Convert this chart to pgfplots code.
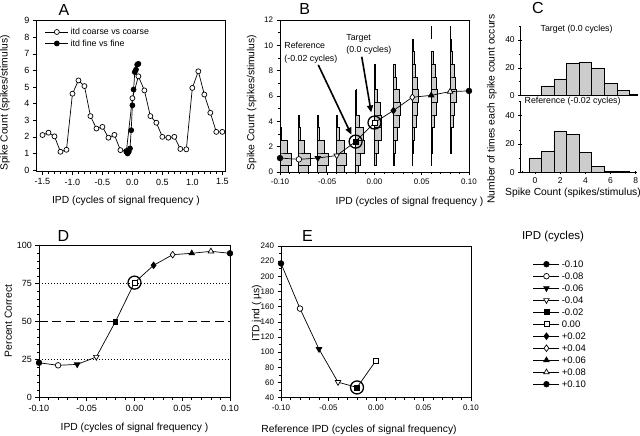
\documentclass[border=0pt]{standalone}
\usepackage{fontspec}
\setmainfont{Liberation Sans}
\usepackage{pgfplots}
\pgfplotsset{compat=1.18}
\usetikzlibrary{arrows.meta}
\pgfplotsset{
  base/.style={scale only axis, anchor=south west, tick align=outside, xtick pos=bottom, ytick pos=left,
    axis line style={line width=0.7pt}, tick style={black, line width=0.6pt},
    major tick length=3.5pt, minor tick length=2.2pt,
    tick label style={font=\fontsize{8.5}{10}\selectfont},
    label style={font=\fontsize{10.3}{12}\selectfont},
    /pgf/number format/assume math mode=true,
    every axis plot/.append style={line width=0.7pt},
  },
  mk1/.style={mark=*, mark size=2.8pt, mark options={draw=black, fill=black, solid}},
  mk2/.style={mark=*, mark size=2.8pt, mark options={draw=black, fill=white, solid}},
  mk3/.style={mark=triangle*, mark size=3.2pt, mark options={draw=black, fill=black, rotate=180, solid}},
  mk4/.style={mark=triangle*, mark size=3.2pt, mark options={draw=black, fill=white, rotate=180, solid}},
  mk5/.style={mark=square*, mark size=2.4pt, mark options={draw=black, fill=black, solid}},
  mk6/.style={mark=square*, mark size=2.4pt, mark options={draw=black, fill=white, solid}},
  mk7/.style={mark=diamond*, mark size=3.3pt, mark options={draw=black, fill=black, solid}},
  mk8/.style={mark=diamond*, mark size=3.3pt, mark options={draw=black, fill=white, solid}},
  mk9/.style={mark=triangle*, mark size=3.2pt, mark options={draw=black, fill=black, solid}},
  mk10/.style={mark=triangle*, mark size=3.2pt, mark options={draw=black, fill=white, solid}},
  hist/.style={draw=black, fill=gray!40, line width=0.5pt},
  rng/.style={black, line width=0.9pt},
}
\begin{document}
\begin{tikzpicture}
\path[use as bounding box] (0,0) rectangle (640pt,436pt);
% panel letters
\node[font=\fontsize{16}{18}\selectfont] at (64pt,425.5pt) {A};
\node[font=\fontsize{16}{18}\selectfont] at (304.7pt,427pt) {B};
\node[font=\fontsize{16}{18}\selectfont] at (538pt,428.5pt) {C};
\node[font=\fontsize{16}{18}\selectfont] at (63.3pt,200pt) {D};
\node[font=\fontsize{16}{18}\selectfont] at (307.5pt,200pt) {E};

% ---------------- A ----------------
\begin{axis}[base, at={(36.5pt,264.3pt)}, width=188.8pt, height=151pt,
  xmin=-1.6, xmax=1.55, ymin=-0.1, ymax=9,
  xtick={-1.5,-1,-0.5,0,0.5,1,1.5}, xticklabels={-1.5,-1.0,-0.5,0.0,0.5,1.0,1.5},
  minor x tick num=4, ytick={0,1,2,3,4,5,6,7,8,9},
  tick label style={font=\fontsize{9}{10}\selectfont},
  xlabel={IPD (cycles of signal frequency )}, ylabel={Spike Count (spikes/stimulus)},
  xlabel style={at={(axis description cs:0.5,0)}, anchor=center, yshift=-29pt, xshift=-5pt},
  ylabel style={at={(axis description cs:-0.167,0.455)}, anchor=center},
  legend style={draw=none, fill=none, at={(0.028,0.978)}, anchor=north west,
    font=\fontsize{8.8}{10}\selectfont, nodes={text height=6.5pt, text depth=1pt}},
  legend cell align=left,
  legend image code/.code={\draw[mark repeat=2,mark phase=2] plot coordinates {(0pt,0pt) (11.5pt,0pt) (23pt,0pt)};},
]
\addplot[black, mark=*, mark size=2.5pt, mark options={fill=white}] coordinates {
(-1.5,2.11) (-1.4,2.25) (-1.3,2.03) (-1.2,1.10) (-1.1,1.22) (-1.0,4.60) (-0.9,5.40)
(-0.8,5.06) (-0.7,3.25) (-0.6,2.50) (-0.5,2.60) (-0.4,1.95) (-0.3,2.12) (-0.2,1.20)
(-0.1,1.15) (0.0,4.33) (0.1,5.65) (0.2,4.80) (0.3,3.25) (0.4,2.85) (0.5,2.00)
(0.6,1.95) (0.7,2.00) (0.8,1.27) (0.9,1.25) (1.0,4.95) (1.1,5.95) (1.2,4.55)
(1.3,3.45) (1.4,2.30) (1.5,2.30)};
\addlegendentry{itd coarse vs coarse}
\addplot[black, mark=*, mark size=2.5pt, mark options={fill=black}] coordinates {
(-0.10,1.1) (-0.08,1.0) (-0.06,1.1) (-0.04,1.3) (-0.02,2.4) (0.00,3.9)
(0.02,4.85) (0.04,5.9) (0.06,6.05) (0.08,6.35) (0.10,6.4)};
\addlegendentry{itd fine vs fine}
\end{axis}

% ---------------- B ----------------
\begin{axis}[base, at={(280pt,264pt)}, width=189pt, height=152pt,
  xmin=-0.1, xmax=0.1, ymin=0, ymax=12,
  xtick={-0.1,-0.05,0,0.05,0.1}, xticklabels={-0.10,-0.05,0.00,0.05,0.10},
  minor x tick num=4, ytick={0,2,4,6,8,10,12}, minor y tick num=1,
  tick label style={font=\fontsize{8}{10}\selectfont},
  xlabel={IPD (cycles of signal frequency )}, ylabel={Spike Count (spikes/stimulus)},
  xlabel style={at={(axis description cs:0.5,0)}, anchor=center, yshift=-29.7pt, xshift=35pt},
  ylabel style={at={(axis description cs:-0.15,0.457)}, anchor=center},
]
% histograms (x = count of trials, scaled to IPD units)
\addplot[hist, x filter/.expression={-0.10+0.0003*x}] coordinates {
(0,0) (30,0) (30,0.5) (0,0.5) (38,0.5) (38,1.5) (0,1.5) (26,1.5) (26,2.5) (0,2.5) (6,2.5) (6,3.5) (0,3.5)};
\addplot[hist, x filter/.expression={-0.08+0.0003*x}] coordinates {
(0,0) (32,0) (32,0.5) (0,0.5) (40,0.5) (40,1.5) (0,1.5) (20,1.5) (20,2.5) (0,2.5) (6,2.5) (6,3.5) (0,3.5) (2,3.5) (2,4.5) (0,4.5)};
\addplot[hist, x filter/.expression={-0.06+0.0003*x}] coordinates {
(0,0) (30,0) (30,0.5) (0,0.5) (38,0.5) (38,1.5) (0,1.5) (24,1.5) (24,2.5) (0,2.5) (6,2.5) (6,3.5) (0,3.5) (2,3.5) (2,4.5) (0,4.5)};
\addplot[hist, x filter/.expression={-0.04+0.0003*x}] coordinates {
(0,0) (25,0) (25,0.5) (0,0.5) (35,0.5) (35,1.5) (0,1.5) (28,1.5) (28,2.5) (0,2.5) (9,2.5) (9,3.5) (0,3.5) (3,3.5) (3,4.5) (0,4.5)};
\addplot[hist, x filter/.expression={-0.02+0.0003*x}] coordinates {
(0,0) (10,0) (10,0.5) (0,0.5) (15,0.5) (15,1.5) (0,1.5) (29,1.5) (29,2.5) (0,2.5) (27,2.5) (27,3.5) (0,3.5)
(14,3.5) (14,4.5) (0,4.5) (4,4.5) (4,5.5) (0,5.5) (1,5.5) (1,6.5) (0,6.5)};
\addplot[hist, x filter/.expression={0.00+0.0003*x}] coordinates {
(0,0.5) (7,0.5) (7,1.5) (0,1.5) (12,1.5) (12,2.5) (0,2.5) (23,2.5) (23,3.5) (0,3.5) (24,3.5) (24,4.5) (0,4.5)
(20,4.5) (20,5.5) (0,5.5) (9,5.5) (9,6.5) (0,6.5) (4,6.5) (4,7.5) (0,7.5) (1,7.5) (1,8.5) (0,8.5)};
\addplot[hist, x filter/.expression={0.02+0.0003*x}] coordinates {
(0,0.5) (2,0.5) (2,1.5) (0,1.5) (6,1.5) (6,2.5) (0,2.5) (12,2.5) (12,3.5) (0,3.5) (19,3.5) (19,4.5) (0,4.5)
(24,4.5) (24,5.5) (0,5.5) (19,5.5) (19,6.5) (0,6.5) (11,6.5) (11,7.5) (0,7.5) (7,7.5) (7,8.5) (0,8.5)};
\addplot[hist, x filter/.expression={0.04+0.0003*x}] coordinates {
(0,0.5) (1,0.5) (1,1.5) (0,1.5) (3,1.5) (3,2.5) (0,2.5) (7,2.5) (7,3.5) (0,3.5) (13,3.5) (13,4.5) (0,4.5)
(18,4.5) (18,5.5) (0,5.5) (20,5.5) (20,6.5) (0,6.5) (16,6.5) (16,7.5) (0,7.5) (12,7.5) (12,8.5) (0,8.5)
(6,8.5) (6,9.5) (0,9.5) (4,9.5) (4,10.5) (0,10.5)};
\addplot[hist, x filter/.expression={0.06+0.0003*x}] coordinates {
(0,0.5) (1,0.5) (1,1.5) (0,1.5) (3,1.5) (3,2.5) (0,2.5) (5,2.5) (5,3.5) (0,3.5) (10,3.5) (10,4.5) (0,4.5)
(17,4.5) (17,5.5) (0,5.5) (22,5.5) (22,6.5) (0,6.5) (19,6.5) (19,7.5) (0,7.5) (14,7.5) (14,8.5) (0,8.5)
(8,8.5) (8,9.5) (0,9.5)};
\addplot[hist, x filter/.expression={0.08+0.0003*x}] coordinates {
(0,1.5) (3,1.5) (3,2.5) (0,2.5) (5,2.5) (5,3.5) (0,3.5) (10,3.5) (10,4.5) (0,4.5)
(15,4.5) (15,5.5) (0,5.5) (20,5.5) (20,6.5) (0,6.5) (18,6.5) (18,7.5) (0,7.5) (14,7.5) (14,8.5) (0,8.5)
(9,8.5) (9,9.5) (0,9.5) (5,9.5) (5,10.5) (0,10.5) (1,10.5) (1,11.5) (0,11.5)};
% ranges
\addplot[rng] coordinates {(-0.10,0) (-0.10,3.5)};
\addplot[rng] coordinates {(-0.08,0) (-0.08,4.5)};
\addplot[rng] coordinates {(-0.06,0) (-0.06,4.5)};
\addplot[rng] coordinates {(-0.04,0) (-0.04,4.5)};
\addplot[rng] coordinates {(-0.02,0) (-0.02,6.5)};
\addplot[rng] coordinates {(0.00,0.5) (0.00,8.5)};
\addplot[rng] coordinates {(0.02,0.5) (0.02,8.5)};
\addplot[rng] coordinates {(0.04,0.5) (0.04,10.5)};
\addplot[rng] coordinates {(0.06,0.5) (0.06,9.5)};
\addplot[rng] coordinates {(0.06,10.5) (0.06,11.5)};
\addplot[rng] coordinates {(0.08,1.5) (0.08,11.5)};
% means
\addplot[black] coordinates {(-0.10,1.1) (-0.08,1.0) (-0.06,1.1) (-0.04,1.3) (-0.02,2.4) (0.00,3.9)
(0.02,4.85) (0.04,5.9) (0.06,6.05) (0.08,6.35) (0.10,6.4)};
\addplot[black, only marks, mk1] coordinates {(-0.10,1.1)};
\addplot[black, only marks, mk2] coordinates {(-0.08,1.0)};
\addplot[black, only marks, mk3] coordinates {(-0.06,1.1)};
\addplot[black, only marks, mk4] coordinates {(-0.04,1.3)};
\addplot[black, only marks, mk5] coordinates {(-0.02,2.4)};
\addplot[black, only marks, mk6] coordinates {(0.00,3.9)};
\addplot[black, only marks, mk7] coordinates {(0.02,4.85)};
\addplot[black, only marks, mk8] coordinates {(0.04,5.9)};
\addplot[black, only marks, mk9] coordinates {(0.06,6.05)};
\addplot[black, only marks, mk10] coordinates {(0.08,6.35)};
\addplot[black, only marks, mk1] coordinates {(0.10,6.4)};
\addplot[black, only marks, mark=o, mark size=6.5pt, mark options={line width=1.3pt}] coordinates {(-0.02,2.4) (0.00,3.9)};
\draw[line width=1.6pt, -{Triangle[length=7pt,width=6pt]}] (axis cs:-0.0595,8.45) -- (axis cs:-0.0245,2.95);
\draw[line width=1.6pt, -{Triangle[length=7pt,width=6pt]}] (axis cs:-0.0135,9.1) -- (axis cs:-0.0035,4.7);
\node[anchor=west, align=left, font=\fontsize{8.8}{12.6}\selectfont] at (axis cs:-0.099,9.4) {Reference\\(-0.02 cycles)};
\node[anchor=west, align=left, font=\fontsize{8.8}{11.7}\selectfont] at (axis cs:-0.0335,10.09) {Target\\(0.0 cycles)};
\end{axis}

% ---------------- C ----------------
\begin{axis}[base, at={(520pt,340.3pt)}, width=117pt, height=69.7pt,
  xmin=-1.2, xmax=8.1, ymin=0, ymax=50, axis x line=bottom, axis y line=left,
  axis line style={-, line width=0.7pt}, clip=false,
  xtick=\empty, ytick={0,20,40}, minor ytick={10,30,50},
]
\addplot[ybar interval, fill=gray!40, draw=black, line width=0.6pt] coordinates {
(0.5,7) (1.5,12) (2.5,23) (3.5,24) (4.5,20) (5.5,9) (6.5,4) (7.5,1) (8.1,0)};
\node[font=\fontsize{8.8}{10}\selectfont] at (axis cs:3.3,48) {Target (0.0 cycles)};
\end{axis}
\begin{axis}[base, at={(520pt,263.7pt)}, width=117pt, height=70.7pt,
  xmin=-1.2, xmax=8.1, ymin=0, ymax=50, axis x line=bottom, axis y line=left,
  axis line style={-, line width=0.7pt}, clip=false,
  xtick={0,2,4,6,8}, minor xtick={-1,1,3,5,7}, ytick={0,20,40}, minor ytick={10,30,50},
  xlabel={Spike Count (spikes/stimulus)},
  xlabel style={at={(axis description cs:0.5,0)}, anchor=center, yshift=-21pt, xshift=-5.5pt},
]
\addplot[ybar interval, fill=gray!40, draw=black, line width=0.6pt] coordinates {
(-0.5,10) (0.5,15) (1.5,29) (2.5,27) (3.5,14) (4.5,4) (5.5,1) (6.5,0.5) (7.5,0)};
\node[font=\fontsize{8.8}{10}\selectfont] at (axis cs:2.98,50) {Reference (-0.02 cycles)};
\end{axis}
\node[rotate=90, font=\fontsize{10.3}{12}\selectfont] at (492pt,327pt) {Number of times each spike count occurs};

% ---------------- D ----------------
\begin{axis}[base, at={(39pt,38.3pt)}, width=191pt, height=152pt,
  xmin=-0.1, xmax=0.1, ymin=0, ymax=100,
  xtick={-0.1,-0.05,0,0.05,0.1}, xticklabels={-0.10,-0.05,0.00,0.05,0.10},
  minor x tick num=4, ytick={0,25,50,75,100}, minor y tick num=4,
  tick label style={font=\fontsize{9}{10}\selectfont},
  xlabel={IPD (cycles of signal frequency )}, ylabel={Percent Correct},
  xlabel style={at={(axis description cs:0.5,0)}, anchor=center, yshift=-30.3pt},
  ylabel style={at={(axis description cs:-0.161,0.505)}, anchor=center},
]
\addplot[black, line width=0.8pt, dash pattern=on 1pt off 2pt] coordinates {(-0.1,75) (0.1,75)};
\addplot[black, line width=0.8pt, dash pattern=on 1pt off 2pt] coordinates {(-0.1,25) (0.1,25)};
\addplot[black, line width=1.4pt, dash pattern=on 9pt off 4.5pt] coordinates {(-0.1,50) (0.1,50)};
\addplot[black] coordinates {(-0.10,23.0) (-0.08,21.3) (-0.06,21.9) (-0.04,26.8) (-0.02,50.0) (0.00,75.7)
(0.02,87.1) (0.04,94.1) (0.06,95.0) (0.08,96.3) (0.10,95.0)};
\addplot[black, only marks, mk1] coordinates {(-0.10,23.0)};
\addplot[black, only marks, mk2] coordinates {(-0.08,21.3)};
\addplot[black, only marks, mk3] coordinates {(-0.06,21.9)};
\addplot[black, only marks, mk4] coordinates {(-0.04,26.8)};
\addplot[black, only marks, mk5] coordinates {(-0.02,50.0)};
\addplot[black, only marks, mk6] coordinates {(0.00,75.7)};
\addplot[black, only marks, mk7] coordinates {(0.02,87.1)};
\addplot[black, only marks, mk8] coordinates {(0.04,94.1)};
\addplot[black, only marks, mk9] coordinates {(0.06,95.0)};
\addplot[black, only marks, mk10] coordinates {(0.08,96.3)};
\addplot[black, only marks, mk1] coordinates {(0.10,95.0)};
\addplot[black, only marks, mark=o, mark size=6.5pt, mark options={line width=1.3pt}] coordinates {(0.00,75.7)};
\end{axis}

% ---------------- E ----------------
\begin{axis}[base, at={(281pt,38.3pt)}, width=190pt, height=151.7pt,
  xmin=-0.1, xmax=0.1, ymin=40, ymax=240,
  xtick={-0.1,-0.05,0,0.05,0.1}, xticklabels={-0.10,-0.05,0.00,0.05,0.10},
  minor x tick num=4, ytick={40,60,80,100,120,140,160,180,200,220,240}, minor y tick num=1,
  tick label style={font=\fontsize{8}{10}\selectfont},
  xlabel={Reference IPD (cycles of signal frequency)}, ylabel={ITD jnd ( µs)},
  xlabel style={at={(axis description cs:0.5,0)}, anchor=center, yshift=-32pt, xshift=-17pt},
  ylabel style={at={(axis description cs:-0.128,0.558)}, anchor=center},
  legend style={draw=none, fill=none, at={(1.31,0.934)}, anchor=north west,
    font=\fontsize{9.5}{11}\selectfont, nodes={text height=7pt, text depth=1pt}},
  legend cell align=left,
  legend image code/.code={\draw[mark repeat=2,mark phase=2] plot coordinates {(0pt,0pt) (13pt,0pt) (26pt,0pt)};},
]
\addplot[black, forget plot] coordinates {(-0.10,217) (-0.08,157.5) (-0.06,104) (-0.04,60.5) (-0.02,53.5) (0.00,89)};
\addplot[black, only marks, mk1, forget plot] coordinates {(-0.10,217)};
\addplot[black, only marks, mk2, forget plot] coordinates {(-0.08,157.5)};
\addplot[black, only marks, mk3, forget plot] coordinates {(-0.06,104)};
\addplot[black, only marks, mk4, forget plot] coordinates {(-0.04,60.5)};
\addplot[black, only marks, mk5, forget plot] coordinates {(-0.02,53.5)};
\addplot[black, only marks, mk6, forget plot] coordinates {(0.00,89)};
\addplot[black, only marks, mark=o, mark size=6.5pt, mark options={line width=1.3pt}, forget plot] coordinates {(-0.02,53.5)};
\addlegendimage{black, line width=0.7pt, mk1}\addlegendentry{-0.10}
\addlegendimage{black, line width=0.7pt, mk2}\addlegendentry{-0.08}
\addlegendimage{black, line width=0.7pt, mk3}\addlegendentry{-0.06}
\addlegendimage{black, line width=0.7pt, mk4}\addlegendentry{-0.04}
\addlegendimage{black, line width=0.7pt, mk5}\addlegendentry{-0.02}
\addlegendimage{black, line width=0.7pt, mk6}\addlegendentry{0.00}
\addlegendimage{black, line width=0.7pt, mk7}\addlegendentry{+0.02}
\addlegendimage{black, line width=0.7pt, mk8}\addlegendentry{+0.04}
\addlegendimage{black, line width=0.7pt, mk9}\addlegendentry{+0.06}
\addlegendimage{black, line width=0.7pt, mk10}\addlegendentry{+0.08}
\addlegendimage{black, line width=0.7pt, mk1}\addlegendentry{+0.10}
\end{axis}
\node[font=\fontsize{11.5}{13}\selectfont] at (553pt,199pt) {IPD (cycles)};
\end{tikzpicture}
\end{document}
